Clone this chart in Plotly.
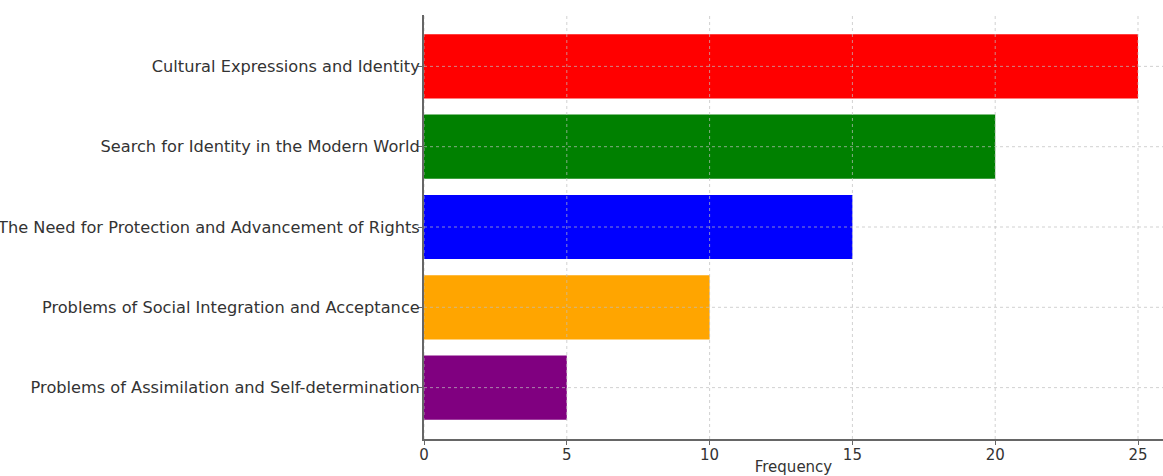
import plotly.graph_objects as go

categories = [
    "Problems of Assimilation and Self-determination",
    "Problems of Social Integration and Acceptance",
    "The Need for Protection and Advancement of Rights",
    "Search for Identity in the Modern World",
    "Cultural Expressions and Identity",
]
frequencies = [5, 10, 15, 20, 25]
colors = ["#800080", "#FFA500", "#0000FF", "#008000", "#FF0000"]
x_ticks = [0, 5, 10, 15, 20, 25]

positions = list(range(len(categories)))

fig = go.Figure()
fig.add_trace(go.Bar(
    x=frequencies,
    y=positions,
    orientation="h",
    width=0.8,
    marker=dict(color=colors, line=dict(width=0)),
    hoverinfo="x+y",
))

grid_style = dict(color="rgba(190,190,190,0.7)", width=1, dash="dot")
shapes = []
for xv in x_ticks:
    shapes.append(dict(type="line", xref="x", yref="paper", x0=xv, x1=xv, y0=0, y1=1,
                       line=grid_style, layer="above"))
for p in positions:
    shapes.append(dict(type="line", xref="paper", yref="y", x0=0, x1=1, y0=p, y1=p,
                       line=grid_style, layer="above"))

fig.update_layout(
    width=1163,
    height=476,
    margin=dict(l=424, r=0, t=15, b=37),
    paper_bgcolor="white",
    plot_bgcolor="white",
    showlegend=False,
    font=dict(family="DejaVu Sans", size=16, color="#333333"),
    shapes=shapes,
    xaxis=dict(
        range=[0, 25.875],
        tickvals=x_ticks,
        ticks="outside",
        ticklen=4,
        tickcolor="#666666",
        ticklabelstandoff=-3,
        showgrid=False,
        zeroline=False,
        showline=True,
        linecolor="#666666",
        linewidth=2,
        automargin=False,
        title=dict(text="Frequency", standoff=8, font=dict(size=15)),
        tickfont=dict(size=15),
    ),
    yaxis=dict(
        range=[-0.64, 4.64],
        tickvals=positions,
        ticktext=categories,
        ticks="outside",
        ticklen=4,
        tickcolor="#666666",
        ticklabelstandoff=-5,
        showgrid=False,
        zeroline=False,
        showline=True,
        linecolor="#666666",
        linewidth=2,
        automargin=False,
        tickfont=dict(size=16.2),
    ),
)

fig.write_html("out.html")
